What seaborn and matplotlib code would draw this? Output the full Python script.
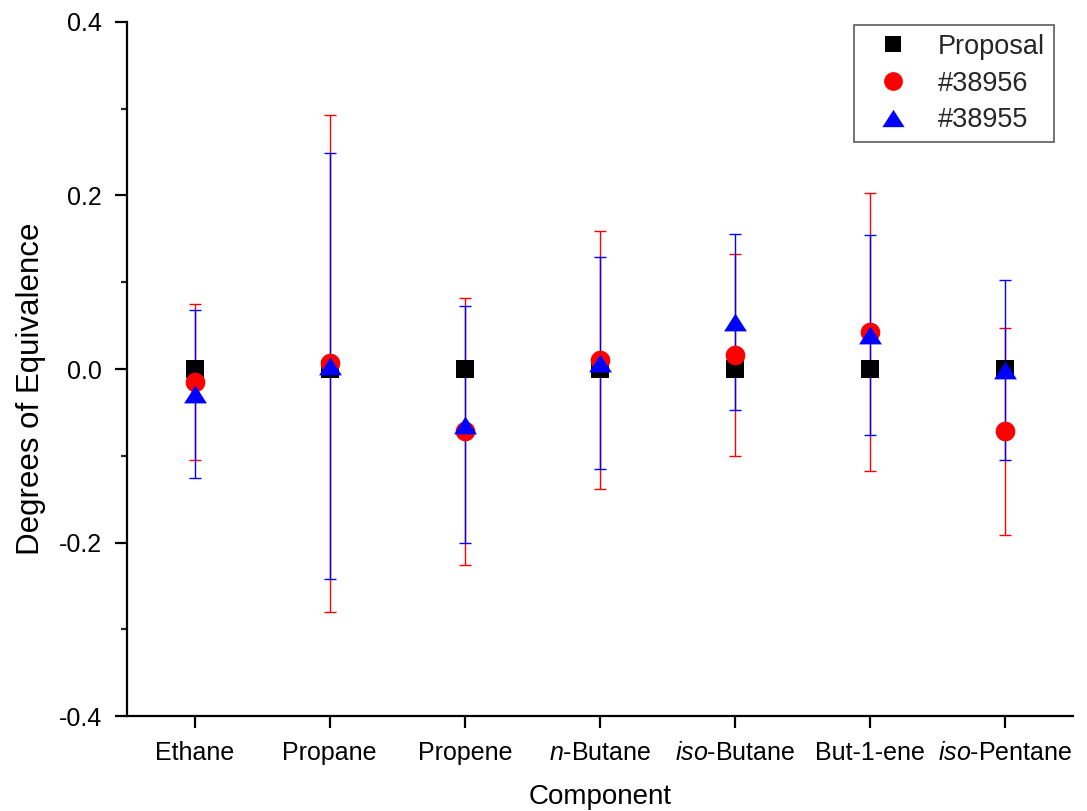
import numpy as np
import pandas as pd
import matplotlib
matplotlib.use("Agg")
import matplotlib.pyplot as plt
from matplotlib.path import Path
from matplotlib.lines import Line2D
import seaborn as sns

# Components and their axis labels (italic prefixes via mathtext)
components = ["Ethane", "Propane", "Propene", "n-Butane", "iso-Butane", "But-1-ene", "iso-Pentane"]
tick_labels = ["Ethane", "Propane", "Propene", r"$\it{n}$-Butane", r"$\it{iso}$-Butane",
               "But-1-ene", r"$\it{iso}$-Pentane"]

# Degrees of equivalence and expanded uncertainties
proposal = [0.0, 0.0, 0.0, 0.0, 0.0, 0.0, 0.0]
doe_38956 = [-0.015, 0.0065, -0.072, 0.0105, 0.0163, 0.0425, -0.072]
unc_38956 = [0.090, 0.2865, 0.154, 0.1485, 0.1163, 0.1605, 0.119]
doe_38955 = [-0.029, 0.0033, -0.064, 0.007, 0.0545, 0.039, -0.0012]
unc_38955 = [0.097, 0.2453, 0.137, 0.122, 0.1015, 0.115, 0.104]

series_names = ["Proposal", "#38956", "#38955"]

sns.set_theme(style="ticks")
plt.rcParams["font.family"] = ["Liberation Sans", "DejaVu Sans"]
plt.rcParams["mathtext.fontset"] = "custom"
plt.rcParams["mathtext.rm"] = "Liberation Sans"
plt.rcParams["mathtext.it"] = "Liberation Sans:italic"

df = pd.DataFrame({
    "Component": components * 3,
    "DoE": proposal + doe_38956 + doe_38955,
    "Series": [series_names[0]] * 7 + [series_names[1]] * 7 + [series_names[2]] * 7,
})
df["x"] = [components.index(c) for c in df["Component"]]

# Wide, flat triangle
tri = Path([(0, 0.78), (-1, -0.78), (1, -0.78), (0, 0.78)],
           [Path.MOVETO, Path.LINETO, Path.LINETO, Path.CLOSEPOLY])

fig = plt.figure(figsize=(10.87, 8.11), dpi=100)
ax = fig.add_axes([0.1168, 0.1171, 0.8703, 0.8558])

x_pos = np.arange(len(components))

# Error bars (red under blue)
ax.errorbar(x_pos, doe_38956, yerr=unc_38956, fmt="none", ecolor="#FF0000",
            elinewidth=1.0, capsize=4.6, capthick=1.0, zorder=2)
ax.errorbar(x_pos, doe_38955, yerr=unc_38955, fmt="none", ecolor="#0000FF",
            elinewidth=1.0, capsize=4.6, capthick=1.0, zorder=3)

palette = {"Proposal": "#000000", "#38956": "#FF0000", "#38955": "#0000FF"}
markers = {"Proposal": "s", "#38956": "o", "#38955": tri}
sizes = {"Proposal": 150, "#38956": 200, "#38955": 270}

for name in series_names:
    sub = df[df["Series"] == name]
    sns.scatterplot(data=sub, x="x", y="DoE", color=palette[name], marker=markers[name],
                    s=sizes[name], linewidth=0, ax=ax, legend=False, zorder=4)

ax.set_xlim(-0.5, 6.5)
ax.set_ylim(-0.4, 0.4)
ax.set_xticks(x_pos)
ax.set_xticklabels(tick_labels)
ax.set_yticks([-0.4, -0.2, 0.0, 0.2, 0.4])
ax.set_yticklabels(["-0.4", "-0.2", "0.0", "0.2", "0.4"])
ax.set_yticks(np.arange(-0.3, 0.4, 0.2), minor=True)

for side in ["top", "right"]:
    ax.spines[side].set_visible(False)
for side in ["left", "bottom"]:
    ax.spines[side].set_linewidth(1.6)
    ax.spines[side].set_color("black")

ax.tick_params(axis="both", which="major", direction="out", length=8.5, width=1.6,
               labelsize=18, colors="black")
ax.tick_params(axis="y", which="major", pad=9.5)
ax.tick_params(axis="y", which="minor", direction="out", length=4.5, width=1.6)
ax.tick_params(axis="x", which="major", pad=9.5)

ax.set_xlabel("Component", fontsize=20, labelpad=14, color="black")
ax.set_ylabel("Degrees of Equivalence", fontsize=22.5, color="black")
ax.yaxis.set_label_coords(-0.086, 0.471)

handles = [Line2D([], [], linestyle="none", marker=markers[n], color=palette[n],
                  markersize=ms, markeredgewidth=0)
           for n, ms in zip(series_names, [11, 13.5, 16])]
leg = ax.legend(handles, series_names, loc="upper right", bbox_to_anchor=(0.9795, 0.996),
                fontsize=19.5, frameon=True, fancybox=False, edgecolor="#333333",
                handletextpad=0.5, borderpad=0.33, labelspacing=0.4, handlelength=2.26,
                borderaxespad=0)
leg.get_frame().set_linewidth(1.2)

fig.savefig("out.png", dpi=100)
